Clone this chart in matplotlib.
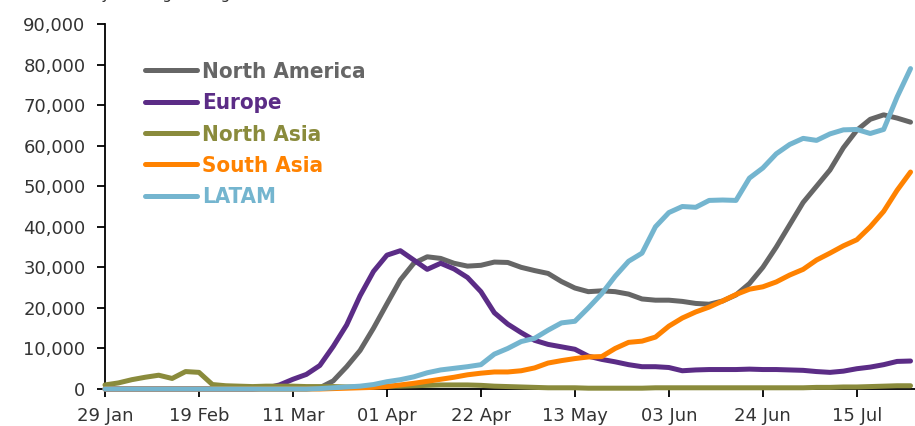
import numpy as np
import pandas as pd
import matplotlib
matplotlib.use('Agg')
import matplotlib.pyplot as plt
import matplotlib.dates as mdates
from matplotlib.ticker import FuncFormatter

# every 3rd day, 29 Jan to 27 Jul 2020
dates = pd.date_range('2020-01-29', periods=61, freq='3D')

north_america = [0, 0, 0, 0, 0, 0, 0, 0, 0, 0,
                 0, 0, 0, 0, 0, 0, 300, 2000, 5500, 9500,
                 15000, 21000, 26900, 31000, 32600, 32200, 31000, 30300, 30500, 31300,
                 31200, 30000, 29200, 28500, 26500, 24900, 24000, 24200, 24000, 23400,
                 22200, 21900, 21900, 21600, 21100, 20900, 21700, 23200, 26000, 30000,
                 35000, 40500, 46000, 50000, 54000, 59500, 63800, 66500, 67600, 66800,
                 65800]
europe = [0, 0, 0, 0, 0, 0, 0, 0, 0, 0,
          0, 0, 200, 1000, 2400, 3600, 5800, 10500, 15800, 23000,
          29000, 33000, 34100, 31800, 29500, 31000, 29600, 27500, 24000, 18800,
          16000, 13900, 12000, 11000, 10400, 9800, 8100, 7300, 6700, 6000,
          5500, 5500, 5300, 4500, 4700, 4800, 4800, 4800, 4900, 4800,
          4800, 4700, 4600, 4300, 4100, 4400, 5000, 5400, 6000, 6800,
          6900]
north_asia = [1000, 1500, 2300, 2900, 3400, 2600, 4300, 4100, 1100, 800,
              700, 600, 700, 700, 700, 600, 600, 600, 500, 500,
              600, 700, 700, 800, 900, 1000, 1000, 1000, 900, 700,
              600, 500, 400, 300, 300, 300, 200, 200, 200, 200,
              200, 300, 300, 300, 300, 300, 300, 300, 300, 300,
              300, 300, 300, 400, 400, 500, 500, 600, 700, 800,
              800]
south_asia = [0, 0, 0, 0, 0, 0, 0, 0, 0, 0,
              0, 0, 0, 0, 0, 0, 0, 100, 200, 300,
              400, 600, 1000, 1400, 1900, 2400, 2900, 3500, 3900, 4200,
              4200, 4500, 5200, 6400, 7000, 7500, 7900, 8000, 10000, 11500,
              11800, 12800, 15500, 17500, 19000, 20200, 21700, 23300, 24600, 25200,
              26400, 28100, 29500, 31800, 33500, 35300, 36800, 40000, 43800, 49000,
              53500]
latam = [0, 0, 0, 0, 0, 0, 0, 0, 0, 0,
         0, 0, 0, 0, 0, 0, 100, 300, 500, 700,
         1100, 1800, 2300, 3000, 4000, 4700, 5100, 5500, 6000, 8600,
         10000, 11700, 12500, 14500, 16300, 16700, 20000, 23500, 27800, 31500,
         33500, 40000, 43500, 45000, 44800, 46500, 46600, 46500, 52000, 54500,
         58000, 60300, 61800, 61300, 62900, 63900, 64000, 63000, 64000, 72000,
         79000]

names = ['North America', 'Europe', 'North Asia', 'South Asia', 'LATAM']
colors = ['#666666', '#5b2c86', '#8a8b3c', '#ff8200', '#74b5cf']
series = [north_america, europe, north_asia, south_asia, latam]

fig = plt.figure(figsize=(9.15, 4.26), dpi=100)
ax = fig.add_axes([105/915, 1 - 389/426, 810/915, 365/426])

for name, col, vals in zip(names, colors, series):
    ax.plot(dates, vals, color=col, lw=3.6, label=name, zorder=3,
            solid_capstyle='round', solid_joinstyle='round', clip_on=False)

ax.set_ylim(0, 90000)
ax.set_yticks(np.arange(0, 90001, 10000))
ax.yaxis.set_major_formatter(FuncFormatter(lambda v, p: f'{int(v):,}'))

start = pd.Timestamp('2020-01-29')
ax.set_xlim(start, start + pd.Timedelta(days=181))
ax.set_xticks(pd.date_range(start, periods=9, freq='21D'))
ax.xaxis.set_major_formatter(mdates.DateFormatter('%d %b'))

for s in ['top', 'right']:
    ax.spines[s].set_visible(False)
for s in ['left', 'bottom']:
    ax.spines[s].set_linewidth(1.3)
    ax.spines[s].set_color('black')

ax.tick_params(axis='both', direction='out', length=6, width=1.3, colors='black',
               labelsize=13, labelcolor='#333333')
ax.tick_params(axis='y', pad=8)
ax.tick_params(axis='x', pad=7)

leg = ax.legend(loc='upper left', bbox_to_anchor=(0.038, 0.92), frameon=False,
                handlelength=2.35, handletextpad=0.25, labelspacing=0.51,
                borderaxespad=0, labelcolor='linecolor',
                prop={'family': 'DejaVu Sans', 'stretch': 'condensed',
                      'weight': 'bold', 'size': 16})

fig.text(67/915, 1 + 1/426, '7-day moving average', fontsize=11,
         color='#333333', va='baseline', ha='left')

fig.savefig('out.png', dpi=100)
